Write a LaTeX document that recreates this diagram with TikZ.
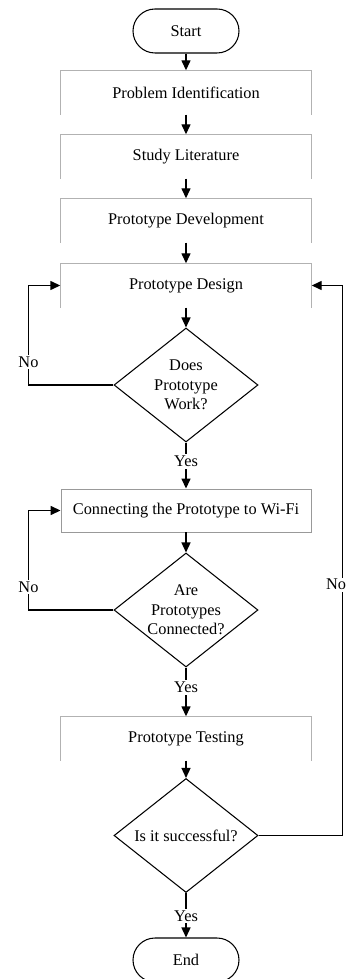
\documentclass[tikz,border=0pt]{standalone}
\usepackage{fontspec}
\setmainfont{Liberation Serif}
\usetikzlibrary{shapes.geometric, positioning, arrows.meta}

\tikzset{
  term/.style={draw, rounded corners=4.4mm, minimum width=21.2mm, minimum height=8.8mm, line width=0.6pt},
  proc/.style={minimum width=50mm, minimum height=8.6mm, inner sep=0pt},
  decision/.style={diamond, draw, aspect=1.26, inner sep=0pt, minimum width=28.8mm, minimum height=22.8mm, align=center, line width=0.6pt},
  lbl/.style={fill=white, inner sep=1pt},
}

\begin{document}
\begin{tikzpicture}[>={Triangle[length=2mm,width=1.8mm]}, on grid, line width=0.8pt, font=\fontsize{9.3}{11.1}\selectfont]
       \useasboundingbox (0,0) rectangle (69.4mm,-195.8mm);

       \node[term] (start) at (37.2mm,-6.2mm) {Start};
       \node[proc] (ident) [below=12.3mm of start] {Problem Identification};
       \node[proc] (study) [below=12.8mm of ident] {Study Literature};
       \node[proc] (devel) [below=12.8mm of study] {Prototype Development};
       \node[proc] (design) [below=13mm of devel] {Prototype Design};
       \node[decision] (work) [below=19.9mm of design] {Does\\Prototype\\Work?};
       \node[proc, draw=black!40, line width=0.5pt] (wifi) [below=25.1mm of work] {Connecting the Prototype to Wi-Fi};
       \node[decision] (conn) [below=19.9mm of wifi] {Are\\Prototypes\\Connected?};
       \node[proc] (test) [below=25.7mm of conn] {Prototype Testing};
       \node[decision] (succ) [below=19.4mm of test] {Is it successful?};
       \node[term] (stop) [below=24.9mm of succ] {End};

       % open grey boxes
       \foreach \n in {ident, study, devel, design, test}
         \draw[black!30, line width=0.5pt] (\n.south west) |- (\n.north east) -- (\n.south east);

       \path[->]
       (start) edge (ident)
       (ident) edge (study)
       (study) edge (devel)
       (devel) edge (design)
       (design) edge (work)
       (work) edge node[lbl, pos=0.41] {Yes} (wifi)
       (wifi) edge (conn)
       (conn) edge node[lbl, pos=0.41] {Yes} (test)
       (test) edge (succ)
       (succ) edge node[lbl, pos=0.52] {Yes} (stop);

       % loops back
       \draw[->] (work.west) -- ++(-17mm,0) |- node[lbl, pos=0.115] {No} (design.west);
       \draw[->] (conn.west) -- ++(-17mm,0) |- node[lbl, pos=0.116] {No} (wifi.west);
       \draw[->] (succ.east) -- ++(16.8mm,0) |- node[lbl, pos=0.228, xshift=-1.3mm] {No} (design.east);
    \end{tikzpicture}
\end{document}
